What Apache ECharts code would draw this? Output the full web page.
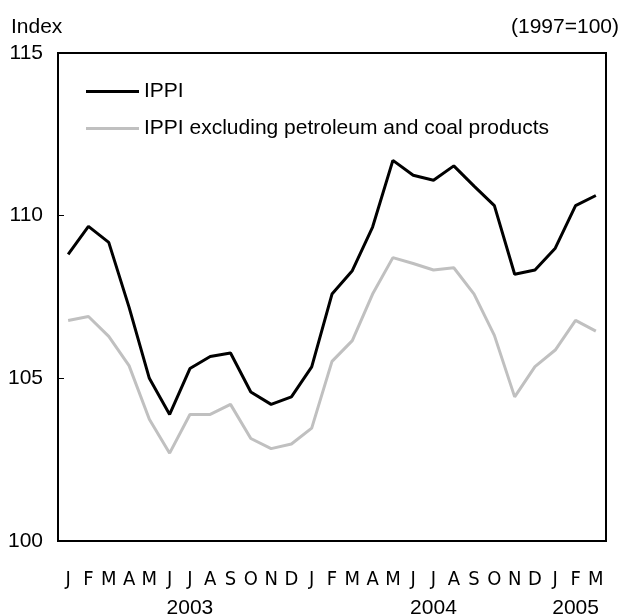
<!DOCTYPE html>
<html>
<head>
<meta charset="utf-8">
<script src="https://cdn.jsdelivr.net/npm/echarts@6/dist/echarts.min.js"></script>
<style>
  html, body { margin: 0; padding: 0; background: #fff; }
  #chart { width: 624px; height: 616px; }
</style>
</head>
<body>
<div id="chart"></div>
<script>
// months Jan 2003 .. Mar 2005
var months = ['J','F','M','A','M','J','J','A','S','O','N','D',
              'J','F','M','A','M','J','J','A','S','O','N','D',
              'J','F','M'];
// year label shown under these category indices
var yearLabels = { 6: '2003', 18: '2004', 25: '2005' };

var ippi = [108.81, 109.67, 109.18, 107.19, 105.0, 103.89, 105.30, 105.67, 105.78, 104.58, 104.20, 104.43,
            105.35, 107.59, 108.31, 109.65, 111.70, 111.24, 111.09, 111.53, 110.91, 110.31, 108.20, 108.33,
            109.0, 110.31, 110.62];
var ippiExPetro = [106.78, 106.90, 106.29, 105.39, 103.74, 102.70, 103.89, 103.89, 104.20, 103.15, 102.84, 102.98,
                   103.47, 105.52, 106.16, 107.59, 108.71, 108.53, 108.33, 108.40, 107.59, 106.32, 104.43, 105.36,
                   105.87, 106.78, 106.45];

var yTicks = { min: 100, max: 115, step: 5 };

var font = '"Liberation Sans", Arial, sans-serif';
var narrow = '"DejaVu Sans Condensed", "Liberation Sans", sans-serif';

var myChart = echarts.init(document.getElementById('chart'));
myChart.setOption({
  animation: false,
  title: [
    { text: 'Index', left: 6, top: 12, textStyle: { fontSize: 21, fontWeight: 'normal', color: '#000', fontFamily: font } },
    { text: '(1997=100)', right: 0, top: 12, textStyle: { fontSize: 21, fontWeight: 'normal', color: '#000', fontFamily: font } }
  ],
  legend: {
    orient: 'vertical',
    left: 81,
    top: 76,
    itemWidth: 53,
    itemHeight: 3,
    itemGap: 16,
    icon: 'rect',
    textStyle: { fontSize: 21, lineHeight: 21, color: '#000', fontFamily: font },
    data: ['IPPI', 'IPPI excluding petroleum and coal products']
  },
  grid: {
    left: 58,
    right: 18,
    top: 53,
    bottom: 75,
    outerBoundsMode: 'none',
    show: true,
    borderColor: '#000',
    borderWidth: 2
  },
  xAxis: {
    type: 'category',
    boundaryGap: true,
    data: months,
    axisLine: { lineStyle: { color: '#000', width: 2 } },
    axisTick: { inside: true, alignWithLabel: true, length: 5, lineStyle: { color: '#000', width: 1 } },
    axisLabel: {
      interval: 0,
      margin: 25,
      color: '#000',
      formatter: function (v, i) {
        var s = '{m|' + v + '}';
        if (yearLabels[i]) s += '\n{y|' + yearLabels[i] + '}';
        return s;
      },
      rich: {
        m: { fontSize: 20, lineHeight: 28, fontFamily: narrow, color: '#000' },
        y: { fontSize: 21, lineHeight: 28, fontFamily: font, color: '#000' }
      }
    },
    splitLine: { show: false }
  },
  yAxis: {
    type: 'value',
    min: yTicks.min,
    max: yTicks.max,
    interval: yTicks.step,
    axisLine: { show: true, lineStyle: { color: '#000', width: 2 } },
    axisTick: { show: true, inside: true, length: 6, lineStyle: { color: '#000', width: 1 } },
    axisLabel: { fontSize: 21, margin: 15, color: '#000', fontFamily: font },
    splitLine: { show: false }
  },
  series: [
    {
      name: 'IPPI',
      type: 'line',
      data: ippi,
      symbol: 'none',
      z: 3,
      lineStyle: { color: '#000', width: 3 },
      itemStyle: { color: '#000' }
    },
    {
      name: 'IPPI excluding petroleum and coal products',
      type: 'line',
      data: ippiExPetro,
      symbol: 'none',
      z: 2,
      lineStyle: { color: '#c0c0c0', width: 3 },
      itemStyle: { color: '#c0c0c0' }
    }
  ]
});
</script>
</body>
</html>
